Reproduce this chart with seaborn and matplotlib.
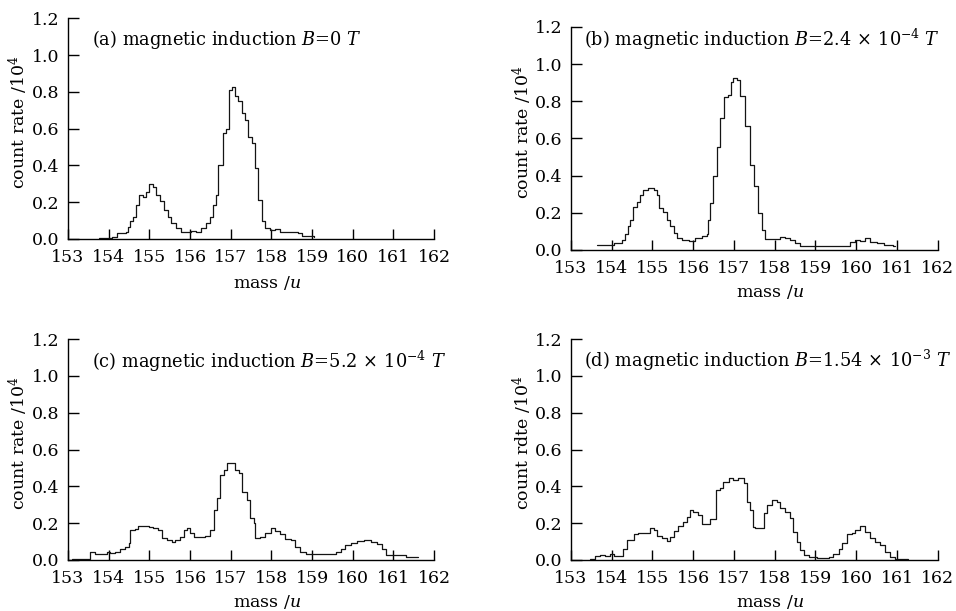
import numpy as np
import pandas as pd
import matplotlib
matplotlib.use("Agg")
import matplotlib.pyplot as plt
import seaborn as sns

# ---------------- data ----------------
mass_a = [153.77, 154.07, 154.2, 154.43, 154.47, 154.53, 154.6, 154.67, 154.75, 154.84, 154.92,
          155.0, 155.08, 155.16, 155.25, 155.37, 155.45, 155.53, 155.66, 155.78, 155.9, 156.02,
          156.15, 156.27, 156.39, 156.48, 156.56, 156.64, 156.7, 156.8, 156.88, 156.95, 157.02,
          157.1, 157.19, 157.27, 157.35, 157.43, 157.52, 157.6, 157.68, 157.76, 157.84, 157.97,
          158.09, 158.21, 158.38, 158.54, 158.66, 158.75, 159.05]
rate_a = [0.007, 0.013, 0.03, 0.04, 0.067, 0.098, 0.12, 0.185, 0.24, 0.23, 0.257,
          0.297, 0.284, 0.24, 0.206, 0.157, 0.12, 0.085, 0.058, 0.04, 0.036, 0.043,
          0.04, 0.058, 0.085, 0.12, 0.185, 0.24, 0.40, 0.576, 0.60, 0.81, 0.825,
          0.775, 0.748, 0.684, 0.648, 0.557, 0.52, 0.385, 0.214, 0.096, 0.06, 0.05,
          0.054, 0.04, 0.036, 0.038, 0.033, 0.015, 0.01]

mass_b = [153.64, 154.05, 154.25, 154.33, 154.4, 154.45, 154.53, 154.62, 154.7, 154.78, 154.9,
          155.03, 155.11, 155.17, 155.27, 155.35, 155.44, 155.52, 155.6, 155.72, 155.89, 156.05,
          156.22, 156.34, 156.36, 156.42, 156.5, 156.59, 156.67, 156.75, 156.86, 156.92, 156.97,
          157.07, 157.15, 157.28, 157.4, 157.5, 157.6, 157.69, 157.77, 158.13, 158.26, 158.38,
          158.5, 158.63, 159.77, 159.85, 159.97, 160.1, 160.22, 160.34, 160.5, 160.67, 160.91, 160.95]
rate_b = [0.027, 0.036, 0.054, 0.086, 0.126, 0.16, 0.233, 0.26, 0.296, 0.323, 0.332,
          0.323, 0.296, 0.224, 0.206, 0.16, 0.126, 0.09, 0.063, 0.054, 0.05, 0.063,
          0.075, 0.086, 0.16, 0.25, 0.395, 0.556, 0.71, 0.825, 0.834, 0.906, 0.923,
          0.915, 0.828, 0.666, 0.459, 0.342, 0.2, 0.108, 0.058, 0.068, 0.066, 0.054,
          0.036, 0.022, 0.022, 0.04, 0.054, 0.05, 0.063, 0.045, 0.036, 0.027, 0.022, 0.022]

mass_c = [153.1, 153.55, 153.67, 153.95, 154.03, 154.16, 154.28, 154.4, 154.49, 154.53, 154.65,
          154.73, 154.86, 154.98, 155.1, 155.22, 155.3, 155.43, 155.55, 155.64, 155.76, 155.84,
          155.92, 156.0, 156.09, 156.25, 156.37, 156.5, 156.58, 156.66, 156.74, 156.83, 156.9,
          157.03, 157.11, 157.2, 157.28, 157.4, 157.47, 157.57, 157.6, 157.73, 157.85, 157.98,
          158.1, 158.22, 158.34, 158.47, 158.59, 158.71, 158.84, 158.96, 159.58, 159.7, 159.82,
          159.95, 160.11, 160.27, 160.44, 160.6, 160.73, 160.81, 161.3, 161.6]
rate_c = [0.005, 0.045, 0.03, 0.045, 0.04, 0.045, 0.058, 0.072, 0.09, 0.163, 0.167,
          0.185, 0.185, 0.181, 0.172, 0.163, 0.118, 0.109, 0.096, 0.109, 0.127, 0.163,
          0.172, 0.145, 0.127, 0.123, 0.13, 0.163, 0.27, 0.335, 0.46, 0.49, 0.525,
          0.528, 0.49, 0.47, 0.37, 0.326, 0.226, 0.2, 0.118, 0.127, 0.145, 0.172,
          0.157, 0.141, 0.112, 0.109, 0.072, 0.042, 0.033, 0.031, 0.042, 0.058, 0.081,
          0.094, 0.105, 0.109, 0.096, 0.085, 0.058, 0.027, 0.018, 0.018]

mass_d = [153.47, 153.6, 153.72, 153.84, 153.96, 154.05, 154.29, 154.37, 154.54, 154.66,
          154.82, 154.95, 155.03, 155.11, 155.23, 155.35, 155.44, 155.52, 155.64, 155.76, 155.85,
          155.93, 156.0, 156.13, 156.21, 156.34, 156.42, 156.57, 156.66, 156.74, 156.87, 156.99,
          157.11, 157.24, 157.32, 157.4, 157.48, 157.52, 157.73, 157.81, 157.93, 158.05,
          158.14, 158.26, 158.38, 158.46, 158.54, 158.63, 158.71, 158.83, 159.03, 159.32, 159.44,
          159.57, 159.65, 159.77, 159.89, 159.97, 160.1, 160.22, 160.34, 160.47, 160.59, 160.71,
          160.83, 160.96, 161.28]
rate_d = [0.004, 0.022, 0.027, 0.022, 0.031, 0.024, 0.058, 0.109, 0.141, 0.148,
          0.148, 0.172, 0.163, 0.13, 0.118, 0.105, 0.127, 0.157, 0.185, 0.208, 0.235,
          0.27, 0.262, 0.244, 0.194, 0.195, 0.221, 0.38, 0.39, 0.425, 0.443, 0.434,
          0.447, 0.416, 0.317, 0.27, 0.181, 0.172, 0.253, 0.3, 0.326, 0.317,
          0.28, 0.262, 0.226, 0.154, 0.1, 0.054, 0.027, 0.014, 0.009, 0.018, 0.031,
          0.058, 0.09, 0.141, 0.148, 0.163, 0.185, 0.154, 0.121, 0.096, 0.081, 0.045,
          0.014, 0.007, 0.004]

panel_titles = [
    r"(a) magnetic induction $B$=0 $T$",
    r"(b) magnetic induction $B$=2.4$\,\times\,$10$^{-4}$ $T$",
    r"(c) magnetic induction $B$=5.2$\,\times\,$10$^{-4}$ $T$",
    r"(d) magnetic induction $B$=1.54$\,\times\,$10$^{-3}$ $T$",
]
ylabels = [r"count rate /10$^4$", r"count rate /10$^4$",
           r"count rate /10$^4$", r"count rdte /10$^4$"]
xlabel = r"mass /$u$"
xticks = [153, 154, 155, 156, 157, 158, 159, 160, 161, 162]
yticks = [0.0, 0.2, 0.4, 0.6, 0.8, 1.0, 1.2]

# ---------------- style ----------------
sns.set_style("ticks")
plt.rcParams["font.family"] = ["DejaVu Serif"]
plt.rcParams["mathtext.fontset"] = "dejavuserif"
plt.rcParams["text.color"] = "black"
plt.rcParams["axes.labelcolor"] = "black"
plt.rcParams["xtick.color"] = "black"
plt.rcParams["ytick.color"] = "black"

FS_TICK = 12.5
FS_LAB = 12.5
FS_TITLE = 12.8

fig = plt.figure(figsize=(9.56, 6.11), dpi=100)

positions = [
    [0.0711, 0.609, 0.383, 0.361],
    [0.597, 0.591, 0.384, 0.365],
    [0.0711, 0.0835, 0.383, 0.3615],
    [0.597, 0.0835, 0.384, 0.3615],
]
title_pos = [(153.6, 1.086), (153.32, 1.13), (153.6, 1.08), (153.32, 1.086)]
ylab_xy = [(-0.136, 0.53), (-0.133, 0.53), (-0.136, 0.53), (-0.133, 0.53)]
xlab_xy = [(0.544, -0.199), (0.542, -0.188), (0.544, -0.19), (0.542, -0.19)]

series = [(mass_a, rate_a), (mass_b, rate_b), (mass_c, rate_c), (mass_d, rate_d)]

for i, (pos, (mx, ry)) in enumerate(zip(positions, series)):
    ax = fig.add_axes(pos)
    df = pd.DataFrame({"mass": mx, "rate": ry})
    sns.lineplot(data=df, x="mass", y="rate", ax=ax, color="#141414",
                 linewidth=0.9, drawstyle="steps-post", estimator=None, sort=False)
    ax.set_xlim(153, 162)
    ax.set_ylim(0, 1.2)
    ax.set_xticks(xticks)
    ax.set_yticks(yticks)
    ax.set_yticklabels([f"{v:.1f}" for v in yticks])
    ax.tick_params(direction="in", width=1, labelsize=FS_TICK, colors="black")
    ax.tick_params(axis="x", length=7, pad=7)
    ax.tick_params(axis="y", length=8, pad=6)
    for s in ["top", "right"]:
        ax.spines[s].set_visible(False)
    for s in ["left", "bottom"]:
        ax.spines[s].set_linewidth(1.0)
        ax.spines[s].set_color("black")
    ax.set_xlabel(xlabel, fontsize=FS_LAB)
    ax.set_ylabel(ylabels[i], fontsize=FS_LAB)
    ax.xaxis.set_label_coords(*xlab_xy[i])
    ax.yaxis.set_label_coords(*ylab_xy[i])
    ax.xaxis.label.set_va("center")
    ax.yaxis.label.set_va("center")
    ax.text(title_pos[i][0], title_pos[i][1], panel_titles[i], fontsize=FS_TITLE,
            ha="left", va="center", color="black")

fig.savefig("out.png", dpi=100)
